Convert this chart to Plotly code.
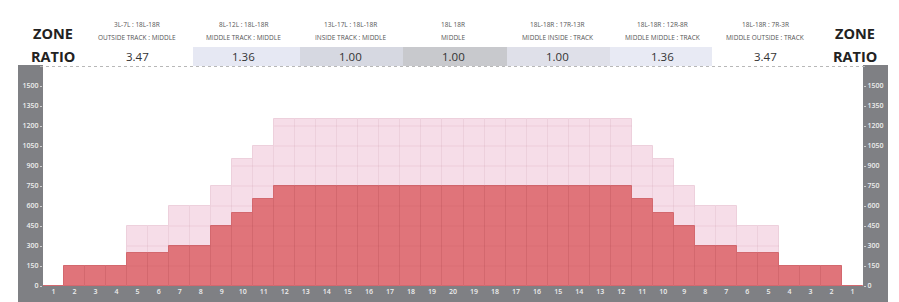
import plotly.graph_objects as go

# ---------------- data ----------------
positions = list(range(1, 21)) + list(range(19, 0, -1))
total_values = [0, 150, 150, 150, 450, 450, 600, 600, 750, 950, 1050,
                1250, 1250, 1250, 1250, 1250, 1250, 1250, 1250, 1250,
                1250, 1250, 1250, 1250, 1250, 1250, 1250, 1250,
                1050, 950, 750, 600, 600, 450, 450, 150, 150, 150, 0]
inner_values = [0, 150, 150, 150, 250, 250, 300, 300, 450, 550, 650,
                750, 750, 750, 750, 750, 750, 750, 750, 750,
                750, 750, 750, 750, 750, 750, 750, 750,
                650, 550, 450, 300, 300, 250, 250, 150, 150, 150, 0]
y_ticks = list(range(0, 1501, 150))

zone_codes = ["3L-7L : 18L-18R", "8L-12L : 18L-18R", "13L-17L : 18L-18R", "18L 18R",
              "18L-18R : 17R-13R", "18L-18R : 12R-8R", "18L-18R : 7R-3R"]
zone_names = ["OUTSIDE TRACK : MIDDLE", "MIDDLE TRACK : MIDDLE", "INSIDE TRACK : MIDDLE", "MIDDLE",
              "MIDDLE INSIDE : TRACK", "MIDDLE MIDDLE : TRACK", "MIDDLE OUTSIDE : TRACK"]
ratios = ["3.47", "1.36", "1.00", "1.00", "1.00", "1.36", "3.47"]

# ---------------- layout helpers ----------------
OFF = 8                       # page body margin
WIN_W, WIN_H = 899, 302
W, H = WIN_W - OFF, WIN_H - OFF
PLOT_L, PLOT_R, PLOT_T, PLOT_B = 43, 863, 65, 286   # window pixel coords of the plot area
L, R, T, B = PLOT_L - OFF, WIN_W - PLOT_R, PLOT_T - OFF, WIN_H - PLOT_B
PW, PH = PLOT_R - PLOT_L, PLOT_B - PLOT_T


def px_x(x):
    return (x - PLOT_L) / PW


def px_y(y):
    return (PLOT_B - y) / PH


x_idx = list(range(len(positions)))
DARK = "#e0747a"
LIGHT = "#f6dde8"
BAND = "#7f8084"
TICKFONT = dict(family="Open Sans", size=7, color="#eeeeee", weight=600)

fig = go.Figure()
fig.add_trace(go.Bar(x=x_idx, y=total_values, marker=dict(color=LIGHT, line=dict(color="#edd0dc", width=1)),
                     hoverinfo="skip", showlegend=False))
fig.add_trace(go.Bar(x=x_idx, y=inner_values, marker=dict(color=DARK, line=dict(color="#d3686e", width=1)),
                     hoverinfo="skip", showlegend=False))
fig.add_trace(go.Scatter(x=[x_idx[0]], y=[0], yaxis="y2", mode="markers", marker=dict(opacity=0),
                         hoverinfo="skip", showlegend=False))

shapes = []
# horizontal cell lines inside bars (computed from data)
for level in y_ticks[1:]:
    idx = [i for i, v in enumerate(total_values) if v > level]
    if not idx:
        continue
    shapes.append(dict(type="line", xref="x", yref="y", x0=idx[0] - 0.5, x1=idx[-1] + 0.5,
                       y0=level, y1=level, line=dict(color="rgba(150,40,70,0.09)", width=1), layer="above"))

# gray axis bands
shapes += [
    dict(type="rect", xref="paper", yref="paper", x0=px_x(18), x1=0, y0=px_y(WIN_H + 2), y1=px_y(65),
         fillcolor=BAND, line=dict(width=0), layer="below"),
    dict(type="rect", xref="paper", yref="paper", x0=1, x1=px_x(888), y0=px_y(WIN_H + 2), y1=px_y(65),
         fillcolor=BAND, line=dict(width=0), layer="below"),
    dict(type="rect", xref="paper", yref="paper", x0=px_x(18), x1=px_x(888), y0=px_y(WIN_H + 2), y1=0,
         fillcolor=BAND, line=dict(width=0), layer="below"),
]

# header ratio cell backgrounds
col_edges = [89, 193, 300, 403, 507, 610, 712, 816]
col_centers = [137, 243, 350, 453, 557, 662, 765]
cell_colors = [None, "#e6e8f3", "#d6d8e1", "#c8c9cd", "#dfe0e9", "#e8eaf4", None]
for i, c in enumerate(cell_colors):
    if c:
        shapes.append(dict(type="rect", xref="paper", yref="paper", x0=px_x(col_edges[i]), x1=px_x(col_edges[i + 1]),
                           y0=px_y(66), y1=px_y(47), fillcolor=c, line=dict(width=0), layer="below"))
shapes.append(dict(type="line", xref="paper", yref="paper", x0=px_x(40), x1=px_x(866), y0=px_y(66.5), y1=px_y(66.5),
                   line=dict(color="#b8b8b8", width=1, dash="dot")))

annotations = []
for i in range(7):
    cx = px_x(col_centers[i])
    annotations.append(dict(x=cx, y=px_y(25), xref="paper", yref="paper", text=zone_codes[i], showarrow=False,
                            xanchor="center", yanchor="middle", font=dict(family="Open Sans", size=6.5, color="#555")))
    annotations.append(dict(x=cx, y=px_y(38), xref="paper", yref="paper", text=zone_names[i], showarrow=False,
                            xanchor="center", yanchor="middle", font=dict(family="Open Sans", size=6.5, color="#555")))
    annotations.append(dict(x=cx, y=px_y(57), xref="paper", yref="paper", text=ratios[i], showarrow=False,
                            xanchor="center", yanchor="middle", font=dict(family="Open Sans", size=11.5, color="#333")))
for xc in (53, 855):
    annotations.append(dict(x=px_x(xc), y=px_y(33), xref="paper", yref="paper", text="ZONE", showarrow=False,
                            xanchor="center", yanchor="middle",
                            font=dict(family="Open Sans", size=14.5, color="#222", weight=700)))
    annotations.append(dict(x=px_x(xc), y=px_y(57), xref="paper", yref="paper", text="RATIO", showarrow=False,
                            xanchor="center", yanchor="middle",
                            font=dict(family="Open Sans", size=14.5, color="#222", weight=700)))

y_top = PH / (20 / 150)  # 150 units per 20 px

fig.update_layout(
    width=W, height=H,
    margin=dict(l=L, r=R, t=T, b=B, pad=0, autoexpand=False),
    paper_bgcolor="white", plot_bgcolor="white",
    barmode="overlay", bargap=0,
    shapes=shapes, annotations=annotations,
    xaxis=dict(range=[-0.5, len(positions) - 0.5], tickvals=x_idx, ticktext=[str(p) for p in positions],
               showgrid=False, zeroline=False, showline=False, ticks="", tickfont=TICKFONT, automargin=False),
    yaxis=dict(range=[0, y_top], tickvals=y_ticks, showgrid=False, zeroline=False, showline=False,
               ticks="outside", ticklen=2, tickcolor="#cfcfcf", tickfont=TICKFONT, automargin=False),
    yaxis2=dict(range=[0, y_top], tickvals=y_ticks, overlaying="y", side="right", showgrid=False,
                zeroline=False, showline=False, ticks="outside", ticklen=2, tickcolor="#cfcfcf", tickfont=TICKFONT,
                automargin=False),
)

fig.write_html("out.html")
